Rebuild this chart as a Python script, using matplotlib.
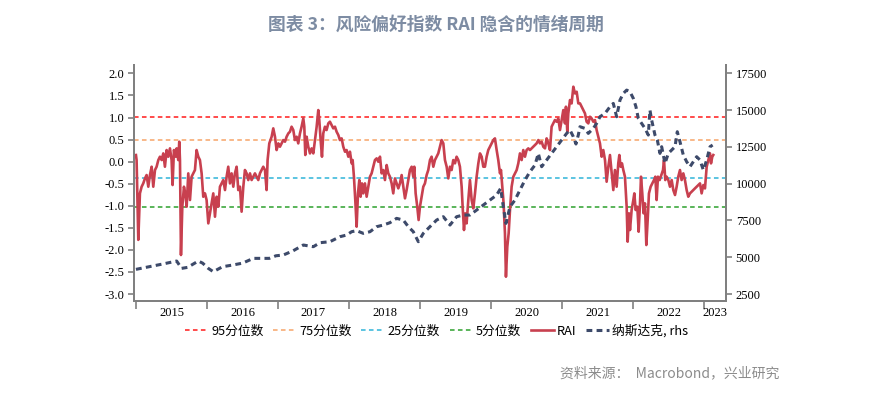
import matplotlib as mpl
mpl.use('Agg')
import matplotlib.pyplot as plt
from matplotlib.ticker import FixedLocator, NullFormatter

plt.rcParams['font.family'] = ['Noto Sans CJK SC', 'DejaVu Sans']

# RAI (left axis), decimal years
rai_t = [2015.000, 2015.009, 2015.033, 2015.056, 2015.080, 2015.103, 2015.127, 2015.150, 2015.174, 2015.197,
         2015.221, 2015.244, 2015.268, 2015.291, 2015.315, 2015.338, 2015.362, 2015.385, 2015.408, 2015.432,
         2015.455, 2015.479, 2015.502, 2015.516, 2015.535, 2015.559, 2015.573, 2015.596, 2015.610, 2015.620,
         2015.634, 2015.653, 2015.676, 2015.695, 2015.714, 2015.737, 2015.761, 2015.784, 2015.808, 2015.831,
         2015.854, 2015.878, 2015.901, 2015.925, 2015.948, 2015.972, 2015.995, 2016.019, 2016.042, 2016.066,
         2016.089, 2016.113, 2016.136, 2016.160, 2016.183, 2016.207, 2016.230, 2016.254, 2016.277, 2016.300,
         2016.324, 2016.347, 2016.371, 2016.394, 2016.418, 2016.441, 2016.465, 2016.488, 2016.512, 2016.535,
         2016.559, 2016.582, 2016.606, 2016.629, 2016.653, 2016.676, 2016.700, 2016.723, 2016.746, 2016.770,
         2016.793, 2016.817, 2016.840, 2016.854, 2016.878, 2016.911, 2016.934, 2016.958, 2016.981, 2017.005,
         2017.028, 2017.052, 2017.075, 2017.099, 2017.122, 2017.146, 2017.169, 2017.192, 2017.216, 2017.239,
         2017.263, 2017.286, 2017.310, 2017.333, 2017.357, 2017.371, 2017.385, 2017.404, 2017.427, 2017.451,
         2017.474, 2017.498, 2017.521, 2017.545, 2017.568, 2017.582, 2017.601, 2017.620, 2017.638, 2017.662,
         2017.685, 2017.709, 2017.732, 2017.756, 2017.779, 2017.803, 2017.826, 2017.850, 2017.873, 2017.897,
         2017.920, 2017.944, 2017.967, 2017.991, 2018.014, 2018.038, 2018.052, 2018.070, 2018.089, 2018.108,
         2018.127, 2018.146, 2018.164, 2018.183, 2018.202, 2018.225, 2018.249, 2018.272, 2018.296, 2018.319,
         2018.343, 2018.366, 2018.390, 2018.413, 2018.437, 2018.460, 2018.484, 2018.507, 2018.531, 2018.554,
         2018.577, 2018.601, 2018.624, 2018.648, 2018.671, 2018.695, 2018.718, 2018.742, 2018.765, 2018.789,
         2018.812, 2018.836, 2018.859, 2018.883, 2018.906, 2018.920, 2018.939, 2018.962, 2018.981, 2019.000,
         2019.023, 2019.047, 2019.070, 2019.094, 2019.117, 2019.141, 2019.164, 2019.188, 2019.211, 2019.235,
         2019.258, 2019.282, 2019.305, 2019.329, 2019.352, 2019.376, 2019.399, 2019.423, 2019.446, 2019.469,
         2019.493, 2019.516, 2019.540, 2019.563, 2019.587, 2019.601, 2019.620, 2019.638, 2019.657, 2019.681,
         2019.704, 2019.728, 2019.751, 2019.775, 2019.798, 2019.822, 2019.845, 2019.869, 2019.892, 2019.915,
         2019.939, 2019.962, 2019.986, 2020.009, 2020.033, 2020.056, 2020.080, 2020.103, 2020.127, 2020.141,
         2020.160, 2020.178, 2020.197, 2020.211, 2020.230, 2020.249, 2020.268, 2020.291, 2020.315, 2020.338,
         2020.362, 2020.385, 2020.408, 2020.432, 2020.455, 2020.479, 2020.502, 2020.526, 2020.549, 2020.573,
         2020.596, 2020.620, 2020.643, 2020.667, 2020.690, 2020.714, 2020.737, 2020.761, 2020.784, 2020.808,
         2020.831, 2020.854, 2020.878, 2020.901, 2020.925, 2020.948, 2020.972, 2020.995, 2021.019, 2021.042,
         2021.056, 2021.075, 2021.089, 2021.113, 2021.136, 2021.160, 2021.183, 2021.207, 2021.230, 2021.254,
         2021.277, 2021.300, 2021.324, 2021.347, 2021.371, 2021.394, 2021.418, 2021.441, 2021.465, 2021.488,
         2021.512, 2021.535, 2021.559, 2021.582, 2021.606, 2021.629, 2021.653, 2021.676, 2021.700, 2021.723,
         2021.746, 2021.770, 2021.793, 2021.808, 2021.826, 2021.845, 2021.864, 2021.887, 2021.911, 2021.925,
         2021.944, 2021.958, 2021.981, 2022.005, 2022.019, 2022.038, 2022.061, 2022.080, 2022.099, 2022.113,
         2022.131, 2022.150, 2022.169, 2022.188, 2022.207, 2022.225, 2022.249, 2022.272, 2022.296, 2022.315,
         2022.333, 2022.352, 2022.376, 2022.399, 2022.423, 2022.437, 2022.455, 2022.474, 2022.498, 2022.521,
         2022.545, 2022.568, 2022.592, 2022.615, 2022.638, 2022.662, 2022.685, 2022.709, 2022.732, 2022.756,
         2022.779, 2022.803, 2022.826, 2022.850, 2022.873, 2022.897, 2022.920, 2022.944, 2022.967, 2022.991,
         2023.014, 2023.038, 2023.061, 2023.085, 2023.099, 2023.117, 2023.131]
rai_v = [0.150, 0.036, -1.773, -0.719, -0.568, -0.493, -0.380, -0.304, -0.568, -0.304,
         -0.115, -0.568, -0.190, -0.115, 0.036, 0.112, 0.036, 0.187, -0.115, 0.263,
         0.112, 0.301, 0.036, -0.530, 0.263, 0.112, 0.301, 0.036, 0.452, 0.036,
         -2.116, -1.021, -0.568, -0.719, -1.021, -0.266, -0.870, -0.341, -0.266, -0.190,
         0.263, 0.112, 0.036, -0.266, -0.795, -0.719, -0.870, -1.399, -1.172, -0.946,
         -0.719, -1.248, -0.795, -1.021, -0.568, -0.493, -0.417, -0.644, -0.341, -0.115,
         -0.493, -0.266, -0.568, -0.266, -0.115, -0.644, -0.568, -1.134, -0.568, -0.190,
         -0.266, -0.417, -0.266, -0.417, -0.341, -0.266, -0.341, -0.417, -0.266, -0.190,
         -0.115, -0.190, -0.644, 0.036, 0.414, 0.565, 0.754, 0.565, 0.263, 0.414,
         0.338, 0.414, 0.489, 0.452, 0.565, 0.640, 0.678, 0.792, 0.716, 0.489,
         0.565, 0.414, 0.640, 0.792, 0.980, 0.792, 0.150, 0.565, 0.338, 0.187,
         0.301, 0.187, 0.489, 0.792, 1.169, 0.943, 0.489, 0.112, 0.640, 0.792,
         0.716, 0.867, 0.905, 0.829, 0.754, 0.792, 0.678, 0.603, 0.489, 0.527,
         0.338, 0.225, 0.263, 0.112, 0.225, -0.039, 0.036, -0.341, -0.870, -1.474,
         -0.719, -0.417, -0.795, -0.493, -0.719, -0.493, -0.795, -0.568, -0.341, -0.266,
         -0.115, 0.036, 0.074, -0.002, 0.112, -0.266, -0.190, -0.417, -0.077, -0.266,
         -0.341, -0.493, -0.719, -0.380, -0.493, -0.606, -0.493, -0.304, -0.568, -0.832,
         -0.644, -0.417, -0.190, -0.115, -0.341, -0.115, -0.719, -1.021, -1.323, -1.021,
         -0.795, -0.568, -0.493, -0.304, -0.190, 0.036, 0.112, -0.115, 0.036, 0.112,
         0.187, 0.338, 0.489, 0.414, 0.036, -0.115, -0.380, -0.115, -0.190, 0.036,
         -0.039, 0.112, 0.036, -0.115, -0.568, -1.021, -1.550, -1.172, -1.399, -0.870,
         -0.417, -0.870, -1.059, -0.719, -0.341, -0.039, 0.187, 0.112, -0.115, -0.115,
         0.112, 0.263, 0.338, 0.414, 0.489, 0.527, 0.263, 0.036, -0.266, -0.190,
         -0.568, -0.946, -1.626, -2.608, -1.928, -1.626, -1.096, -0.568, -0.341, -0.266,
         -0.190, -0.039, 0.187, 0.036, 0.263, 0.112, 0.263, 0.301, 0.263, 0.301,
         0.338, 0.376, 0.414, 0.489, 0.414, 0.452, 0.338, 0.301, 0.527, 0.414,
         0.263, 0.792, 0.867, 0.943, 0.905, 0.980, 0.716, 0.943, 1.169, 0.867,
         1.245, 0.678, 1.093, 1.396, 1.320, 1.698, 1.547, 1.584, 1.320, 1.320,
         1.245, 1.169, 1.093, 0.905, 0.867, 1.018, 0.980, 0.905, 0.943, 0.716,
         0.565, 0.414, 0.112, 0.263, 0.036, -0.455, -0.115, 0.150, -0.266, -0.644,
         -0.190, -0.568, -0.039, 0.150, -0.115, -0.039, -0.190, -0.341, -1.021, -1.814,
         -1.172, -1.550, -1.096, -0.870, -0.719, -1.096, -1.021, -1.588, -0.946, -0.341,
         -0.719, -1.172, -0.946, -1.890, -1.323, -0.719, -0.568, -0.493, -0.417, -0.341,
         -0.870, -0.341, -0.417, -0.304, -0.190, 0.036, -0.417, -0.341, -0.417, -0.568,
         -0.417, -0.644, -0.756, -0.568, -0.341, -0.190, -0.417, -0.266, -0.417, -0.644,
         -0.795, -0.719, -0.681, -0.644, -0.606, -0.568, -0.530, -0.493, -0.719, -0.530,
         -0.606, -0.115, 0.036, 0.187, -0.039, 0.112, 0.150]

# Nasdaq (right axis)
ndx_t = [2015.000, 2015.188, 2015.376, 2015.573, 2015.643, 2015.728, 2015.878, 2015.939, 2016.019, 2016.089,
         2016.221, 2016.362, 2016.502, 2016.653, 2016.878, 2016.972, 2017.075, 2017.216, 2017.357, 2017.498,
         2017.592, 2017.732, 2017.873, 2017.967, 2018.038, 2018.108, 2018.202, 2018.296, 2018.390, 2018.484,
         2018.577, 2018.671, 2018.765, 2018.836, 2018.906, 2018.977, 2019.047, 2019.141, 2019.235, 2019.329,
         2019.423, 2019.516, 2019.610, 2019.704, 2019.798, 2019.892, 2019.986, 2020.080, 2020.136, 2020.174,
         2020.211, 2020.268, 2020.338, 2020.408, 2020.479, 2020.549, 2020.620, 2020.667, 2020.714, 2020.784,
         2020.854, 2020.925, 2020.995, 2021.066, 2021.113, 2021.160, 2021.197, 2021.230, 2021.254, 2021.324,
         2021.371, 2021.441, 2021.488, 2021.535, 2021.606, 2021.676, 2021.723, 2021.770, 2021.817, 2021.864,
         2021.911, 2021.958, 2022.005, 2022.042, 2022.075, 2022.122, 2022.169, 2022.216, 2022.239, 2022.263,
         2022.310, 2022.343, 2022.380, 2022.404, 2022.451, 2022.498, 2022.545, 2022.592, 2022.624, 2022.662,
         2022.709, 2022.756, 2022.803, 2022.850, 2022.897, 2022.944, 2022.991, 2023.038, 2023.085, 2023.122]
ndx_v = [4176, 4358, 4539, 4742, 4244, 4312, 4742, 4600, 4244, 4018,
         4358, 4470, 4600, 4924, 4924, 5100, 5151, 5445, 5831, 5717,
         5989, 6057, 6397, 6510, 6737, 6805, 6624, 6737, 7077, 7190,
         7349, 7643, 7530, 7077, 6737, 6057, 6624, 7080, 7530, 7756,
         7190, 7756, 7870, 7870, 8209, 8549, 8889, 9229, 9682, 8435,
         7303, 8435, 8889, 9569, 10249, 10815, 11268, 12062, 11155, 11608,
         12062, 12515, 12968, 13421, 13648, 13194, 12700, 13308, 13874, 13761,
         13421, 13761, 14099, 14553, 14779, 15232, 15459, 14553, 15685, 16138,
         16365, 16251, 15798, 15232, 14439, 14099, 13761, 13308, 15006, 14326,
         13308, 12968, 12062, 12515, 11381, 12062, 12289, 12515, 13535, 12855,
         11948, 11495, 11155, 11495, 11835, 11608, 10928, 11608, 12515, 12628]

# percentile reference levels
pct_names = ['95分位数', '75分位数', '25分位数', '5分位数']
pct_levels = [1.02, 0.50, -0.38, -1.02]
pct_colors = ['#ff1a1a', '#f7a468', '#2fb4d8', '#2ca02c']

years = [2015, 2016, 2017, 2018, 2019, 2020, 2021, 2022, 2023]
left_ticks = [2.0, 1.5, 1.0, 0.5, 0.0, -0.5, -1.0, -1.5, -2.0, -2.5, -3.0]
right_ticks = [2500, 5000, 7500, 10000, 12500, 15000, 17500]

x_min, x_max = 2014.972, 2023.31
y_min, y_max = -3.147, 2.19

fig = plt.figure(figsize=(8.86, 3.94), dpi=100)
ax = fig.add_axes([0.1512, 0.2373, 0.6682, 0.5977])
ax2 = ax.twinx()

for name, lev, col in zip(pct_names, pct_levels, pct_colors):
    ax.plot([x_min, x_max], [lev, lev], color=col, lw=1.1, dashes=(3, 2.2), label=name)
ax.plot(rai_t, rai_v, color='#c8404f', lw=1.9, label='RAI')
ax2.plot(ndx_t, ndx_v, color='#3d4a6a', lw=2.2, dashes=(1.9, 1.4), label='纳斯达克, rhs')

ax.set_xlim(x_min, x_max)
ax.set_ylim(y_min, y_max)
ax2.set_ylim(2500 + (y_min + 3) * 3000, 2500 + (y_max + 3) * 3000)

gray = '#808080'
serif = 'Liberation Serif'
for a in (ax, ax2):
    a.spines['top'].set_visible(False)
    for s in ('left', 'right', 'bottom'):
        a.spines[s].set_color(gray)
        a.spines[s].set_linewidth(1.4)

ax.set_yticks(left_ticks)
ax.set_yticklabels(['%.1f' % v for v in left_ticks], fontfamily=serif, fontsize=9)
ax.tick_params(axis='y', direction='out', length=4, width=1.2, color=gray, pad=3)
ax2.set_yticks(right_ticks)
ax2.set_yticklabels([str(v) for v in right_ticks], fontfamily=serif, fontsize=9)
ax2.tick_params(axis='y', direction='out', length=4, width=1.2, color=gray, pad=3)

# year ticks at Jan 1, labels centred in each year span
ax.xaxis.set_major_locator(FixedLocator(years))
ax.xaxis.set_major_formatter(NullFormatter())
mids = [(y + min(y + 1, x_max)) / 2 for y in years]
ax.xaxis.set_minor_locator(FixedLocator(mids))
ax.set_xticklabels([str(y) for y in years], minor=True, fontfamily=serif, fontsize=9)
ax.tick_params(axis='x', which='major', direction='out', length=6, width=1.2, color=gray)
ax.tick_params(axis='x', which='minor', length=0, pad=5)

h1, l1 = ax.get_legend_handles_labels()
h2, l2 = ax2.get_legend_handles_labels()
fig.legend(h1 + h2, l1 + l2, loc='center', bbox_to_anchor=(0.493, 0.16), ncol=6,
           frameon=False, fontsize=9.2, handlelength=1.8, handletextpad=0.25,
           columnspacing=0.75, borderpad=0)

fig.text(0.492, 0.937, '图表 3：风险偏好指数 RAI 隐含的情绪周期', ha='center', va='center',
         fontsize=12.8, fontweight='bold', color='#7d8ca3')
fig.text(0.88, 0.053, '资料来源：  Macrobond，兴业研究', ha='right', va='center',
         fontsize=10, color='#8c8c8c')

fig.savefig('out.png', dpi=100)
